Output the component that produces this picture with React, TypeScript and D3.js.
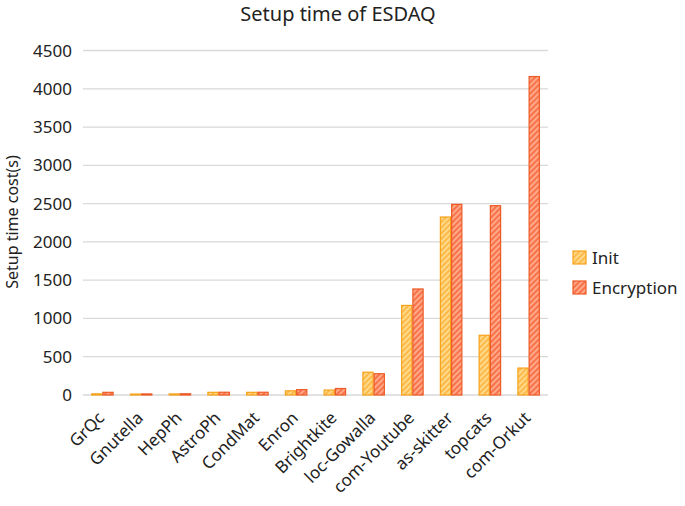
import React from "react";
import * as d3 from "d3";

const categories = ["GrQc", "Gnutella", "HepPh", "AstroPh", "CondMat", "Enron", "Brightkite", "loc-Gowalla", "com-Youtube", "as-skitter", "topcats", "com-Orkut"];
const initValues = [15, 12, 14, 35, 35, 55, 65, 298, 1170, 2325, 780, 352];
const encValues = [35, 14, 16, 36, 36, 70, 85, 278, 1385, 2490, 2473, 4160];
const seriesNames = ["Init", "Encryption"];
const yTicks = [0, 500, 1000, 1500, 2000, 2500, 3000, 3500, 4000, 4500];

const W = 685, H = 506;
const left = 83, right = 548, top = 50.5, bottom = 395;
const FONT = "'Noto Sans', 'Open Sans', sans-serif";

export default function App() {
  const x = d3.scaleBand<string>().domain(categories).range([left, right]).paddingInner(0.42).paddingOuter(0.21);
  const xs = d3.scaleBand<string>().domain(seriesNames).range([0, x.bandwidth()]);
  const y = d3.scaleLinear().domain([0, 4500]).range([bottom, top]);
  const series = [
    { name: "Init", values: initValues, stroke: "#F7A21B", fill: "url(#hInit)" },
    { name: "Encryption", values: encValues, stroke: "#EE5A24", fill: "url(#hEnc)" },
  ];
  return (
    <svg width={W} height={H} style={{ position: "absolute", left: 0, top: 0, background: "#fff" }}>
      <defs>
        <pattern id="hInit" width="4" height="4" patternUnits="userSpaceOnUse" patternTransform="rotate(45)">
          <rect width="4" height="4" fill="#FFD98A" />
          <rect width="2" height="4" fill="#FDBA4A" />
        </pattern>
        <pattern id="hEnc" width="4" height="4" patternUnits="userSpaceOnUse" patternTransform="rotate(45)">
          <rect width="4" height="4" fill="#FFA98A" />
          <rect width="2" height="4" fill="#F8734A" />
        </pattern>
      </defs>
      <text x={338} y={21} textAnchor="middle" fontFamily={FONT} fontSize={20} fill="#222">Setup time of ESDAQ</text>
      {yTicks.map((t) => (
        <g key={t}>
          <line x1={left} x2={right} y1={y(t)} y2={y(t)} stroke="#d9d9d9" strokeWidth={1.3} />
          <text x={72} y={y(t) + 6} textAnchor="end" fontFamily={FONT} fontSize={17} fill="#222">{t}</text>
        </g>
      ))}
      <text transform={`translate(18,222) rotate(-90)`} textAnchor="middle" fontFamily={FONT} fontSize={16} fill="#222">Setup time cost(s)</text>
      {series.map((s) => (
        <g key={s.name}>
          {categories.map((c, i) => {
            const bx = (x(c) as number) + (xs(s.name) as number);
            const by = y(s.values[i]);
            return <rect key={c} x={bx + 0.5} y={by} width={xs.bandwidth() - 1} height={Math.max(0, bottom - by)} fill={s.fill} stroke={s.stroke} strokeWidth={1.2} />;
          })}
        </g>
      ))}
      {categories.map((c) => {
        const cx = (x(c) as number) + x.bandwidth() / 2;
        return (
          <text key={c} transform={`translate(${cx + 3},${bottom + 24}) rotate(-45)`} textAnchor="end" fontFamily={FONT} fontSize={17} fill="#222">{c}</text>
        );
      })}
      {series.map((s, i) => (
        <g key={s.name} transform={`translate(573,${251 + i * 30})`}>
          <rect x={0} y={0} width={13} height={13} fill={s.fill} stroke={s.stroke} strokeWidth={1.2} />
          <text x={19} y={12.5} fontFamily={FONT} fontSize={17} fill="#222">{s.name}</text>
        </g>
      ))}
    </svg>
  );
}
